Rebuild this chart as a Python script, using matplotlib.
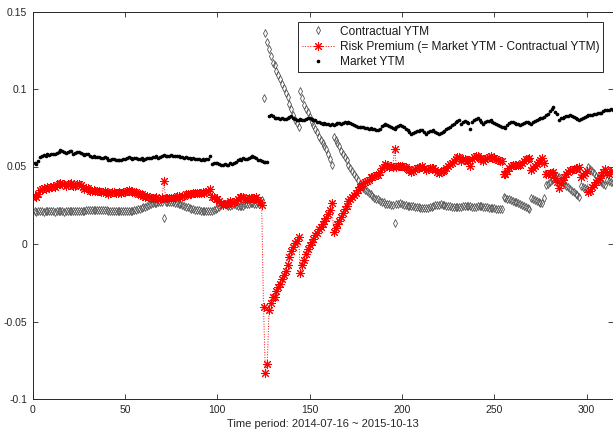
import numpy as np
import matplotlib
matplotlib.use("Agg")
import matplotlib.pyplot as plt

plt.rcParams['font.family'] = ['Liberation Sans', 'DejaVu Sans']

# Market YTM (daily), index 1..314
market_ytm = [
    0.0520, 0.0515, 0.0535, 0.0560, 0.0565, 0.0572, 0.0568, 0.0578, 0.0574, 0.0580,
    0.0583, 0.0578, 0.0588, 0.0595, 0.0604, 0.0598, 0.0594, 0.0586, 0.0592, 0.0598,
    0.0602, 0.0583, 0.0588, 0.0596, 0.0594, 0.0590, 0.0580, 0.0572, 0.0578, 0.0582,
    0.0565, 0.0562, 0.0566, 0.0560, 0.0563, 0.0561, 0.0558, 0.0556, 0.0560, 0.0552,
    0.0540, 0.0545, 0.0548, 0.0550, 0.0544, 0.0540, 0.0545, 0.0540, 0.0548, 0.0550,
    0.0556, 0.0561, 0.0555, 0.0550, 0.0552, 0.0556, 0.0550, 0.0548, 0.0552, 0.0544,
    0.0546, 0.0552, 0.0556, 0.0558, 0.0561, 0.0561, 0.0565, 0.0558, 0.0562, 0.0568,
    0.0572, 0.0568, 0.0565, 0.0570, 0.0572, 0.0568, 0.0565, 0.0570, 0.0565, 0.0561,
    0.0561, 0.0556, 0.0560, 0.0558, 0.0552, 0.0550, 0.0554, 0.0550, 0.0548, 0.0550,
    0.0544, 0.0548, 0.0544, 0.0546, 0.0550, 0.0565, 0.0518, 0.0525, 0.0520, 0.0522,
    0.0518, 0.0512, 0.0507, 0.0515, 0.0507, 0.0512, 0.0520, 0.0518, 0.0525, 0.0530,
    0.0540, 0.0550, 0.0545, 0.0552, 0.0548, 0.0550, 0.0556, 0.0561, 0.0565, 0.0560,
    0.0556, 0.0545, 0.0540, 0.0535, 0.0532, 0.0529, 0.0530,
    0.0827, 0.0831, 0.0825, 0.0816, 0.0812, 0.0810, 0.0808, 0.0810, 0.0806, 0.0804,
    0.0815, 0.0820, 0.0825,
    0.0812, 0.0804, 0.0800, 0.0799, 0.0804, 0.0802, 0.0799, 0.0808, 0.0816, 0.0812,
    0.0804, 0.0800, 0.0799, 0.0788, 0.0790, 0.0782, 0.0777, 0.0780, 0.0775, 0.0772,
    0.0770, 0.0775, 0.0766, 0.0772, 0.0778, 0.0781, 0.0776, 0.0780, 0.0785, 0.0782,
    0.0788, 0.0780, 0.0772, 0.0766, 0.0760, 0.0758, 0.0755, 0.0752, 0.0755, 0.0750,
    0.0748, 0.0745, 0.0750, 0.0742, 0.0740, 0.0738, 0.0734, 0.0745, 0.0760, 0.0770,
    0.0777, 0.0770, 0.0760, 0.0755, 0.0750, 0.0745, 0.0755, 0.0760, 0.0766, 0.0760,
    0.0752, 0.0745, 0.0735, 0.0725, 0.0712, 0.0715, 0.0725, 0.0730, 0.0728, 0.0734,
    0.0734, 0.0725, 0.0712, 0.0720, 0.0728, 0.0730, 0.0734, 0.0725, 0.0718, 0.0712,
    0.0718, 0.0723, 0.0730, 0.0740, 0.0748, 0.0755, 0.0765, 0.0772, 0.0785, 0.0795,
    0.0799, 0.0777, 0.0788, 0.0795, 0.0790, 0.0780, 0.0745, 0.0788, 0.0800, 0.0805,
    0.0810, 0.0800, 0.0790, 0.0777, 0.0785, 0.0792, 0.0796, 0.0799, 0.0790, 0.0782,
    0.0777, 0.0770, 0.0762, 0.0758, 0.0755, 0.0748, 0.0765, 0.0780, 0.0788, 0.0785,
    0.0780, 0.0777, 0.0772, 0.0766, 0.0775, 0.0782, 0.0788, 0.0784, 0.0780, 0.0777,
    0.0785, 0.0792, 0.0799, 0.0805, 0.0810, 0.0815, 0.0822, 0.0831, 0.0840, 0.0855,
    0.0870, 0.0885, 0.0853, 0.0840, 0.0799, 0.0810, 0.0815, 0.0820, 0.0825, 0.0828,
    0.0831, 0.0825, 0.0818, 0.0810, 0.0806, 0.0803, 0.0808, 0.0815, 0.0820, 0.0825,
    0.0831, 0.0830, 0.0835, 0.0838, 0.0840, 0.0842, 0.0842, 0.0848, 0.0855, 0.0864,
    0.0866, 0.0862, 0.0868, 0.0866,
]

# Contractual YTM (daily), index 1..314
contractual_ytm = [
    0.0210, 0.0209, 0.0210, 0.0211, 0.0210, 0.0209, 0.0210, 0.0210, 0.0211, 0.0210,
    0.0210, 0.0209, 0.0210, 0.0210, 0.0211, 0.0210, 0.0209, 0.0210, 0.0210, 0.0211,
    0.0210, 0.0210, 0.0211, 0.0210, 0.0210, 0.0211, 0.0212, 0.0214, 0.0218, 0.0220,
    0.0221, 0.0220, 0.0219, 0.0220, 0.0221, 0.0222, 0.0220, 0.0218, 0.0220, 0.0219,
    0.0216, 0.0215, 0.0214, 0.0213, 0.0212, 0.0212, 0.0211, 0.0211, 0.0212, 0.0213,
    0.0213, 0.0212, 0.0214, 0.0216, 0.0219, 0.0222, 0.0225, 0.0228, 0.0232, 0.0236,
    0.0240, 0.0243, 0.0250, 0.0258, 0.0262, 0.0265, 0.0262, 0.0268, 0.0270, 0.0272,
    0.0168, 0.0270, 0.0268, 0.0270, 0.0272, 0.0268, 0.0265, 0.0262, 0.0258, 0.0255,
    0.0250, 0.0245, 0.0240, 0.0236, 0.0232, 0.0228, 0.0225, 0.0222, 0.0220, 0.0218,
    0.0216, 0.0214, 0.0212, 0.0210, 0.0210, 0.0212, 0.0214, 0.0220, 0.0228, 0.0232,
    0.0240, 0.0250, 0.0255, 0.0258, 0.0252, 0.0248, 0.0245, 0.0250, 0.0255, 0.0252,
    0.0248, 0.0245, 0.0242, 0.0248, 0.0255, 0.0260, 0.0258, 0.0262, 0.0265, 0.0260,
    0.0255, 0.0262, 0.0270, 0.0282,
    0.0940,
    0.1360, 0.1306, 0.1256, 0.1210, 0.1170, 0.1155, 0.1115, 0.1090, 0.1065, 0.1035,
    0.1005, 0.0975, 0.0950, 0.0905, 0.0870, 0.0830, 0.0800, 0.0780, 0.0755,
    0.0990, 0.0940, 0.0900, 0.0870, 0.0850, 0.0820, 0.0790, 0.0770, 0.0740, 0.0720,
    0.0690, 0.0670, 0.0650, 0.0630, 0.0610, 0.0580, 0.0550, 0.0510,
    0.0690, 0.0670, 0.0650, 0.0630, 0.0600, 0.0580, 0.0560, 0.0540, 0.0510, 0.0490,
    0.0470, 0.0450, 0.0430, 0.0410, 0.0390, 0.0380, 0.0360, 0.0350, 0.0340, 0.0330,
    0.0320, 0.0310, 0.0300, 0.0290, 0.0290, 0.0280, 0.0270, 0.0270, 0.0260, 0.0260,
    0.0260, 0.0250, 0.0250,
    0.0133,
    0.0260, 0.0258, 0.0262, 0.0255, 0.0252, 0.0250, 0.0248, 0.0246, 0.0245, 0.0243,
    0.0240, 0.0238, 0.0236, 0.0235,
    0.0233, 0.0232, 0.0232, 0.0234, 0.0236, 0.0240, 0.0245, 0.0250, 0.0252, 0.0253,
    0.0255, 0.0253, 0.0250, 0.0248, 0.0245, 0.0242, 0.0240, 0.0238, 0.0236, 0.0236,
    0.0238, 0.0240, 0.0242, 0.0244, 0.0245, 0.0244, 0.0242, 0.0240, 0.0238, 0.0240,
    0.0242, 0.0244, 0.0243, 0.0240, 0.0238, 0.0236, 0.0235, 0.0233, 0.0232, 0.0230,
    0.0228, 0.0227, 0.0225, 0.0223,
    0.0302, 0.0298, 0.0293, 0.0288, 0.0283, 0.0278, 0.0273, 0.0268, 0.0263, 0.0258,
    0.0252, 0.0246, 0.0240, 0.0234, 0.0228,
    0.0298, 0.0292, 0.0286, 0.0280, 0.0273, 0.0266, 0.0262, 0.0300,
    0.0378, 0.0390, 0.0400, 0.0410, 0.0420, 0.0430, 0.0440, 0.0435, 0.0415, 0.0400,
    0.0390, 0.0375, 0.0365, 0.0355, 0.0345, 0.0335, 0.0325, 0.0315, 0.0305,
    0.0375, 0.0370, 0.0362, 0.0355,
    0.0496, 0.0485, 0.0470, 0.0455, 0.0440, 0.0428, 0.0415, 0.0402, 0.0390, 0.0378,
    0.0410, 0.0408, 0.0400, 0.0395,
]

x_ticks = [0, 50, 100, 150, 200, 250, 300]
y_ticks = [-0.1, -0.05, 0, 0.05, 0.1, 0.15]
y_tick_labels = ['-0.1', '-0.05', '0', '0.05', '0.1', '0.15']
legend_labels = ['Contractual YTM',
                 'Risk Premium (= Market YTM - Contractual YTM)',
                 'Market YTM']
x_label = 'Time period: 2014-07-16 ~ 2015-10-13'

M = np.array(market_ytm)
C = np.array(contractual_ytm)
R = M - C  # risk premium as defined in the legend
t = np.arange(1, len(M) + 1)

W, H = 613, 432
fig = plt.figure(figsize=(W / 100, H / 100), dpi=100)
ax = fig.add_axes([32.7 / W, 1 - 399 / H, (612.5 - 32.7) / W, (399 - 11.5) / H])

ax.plot(t, C, linestyle='none', marker='d', markersize=3.8, mfc='none',
        mec='0.33', mew=0.6, label=legend_labels[0])
ax.plot(t, R, linestyle=':', color='red', linewidth=0.7, marker=(8, 2, 0),
        markersize=6.5, mew=0.75, mec='red', label=legend_labels[1])
ax.plot(t, M, linestyle='none', marker='.', markersize=3.2, color='black',
        label=legend_labels[2])

ax.set_xlim(0, 314)
ax.set_ylim(-0.1, 0.15)
ax.set_xticks(x_ticks)
ax.set_yticks(y_ticks)
ax.set_yticklabels(y_tick_labels)
ax.tick_params(direction='in', length=3.6, width=0.6, top=True, right=True,
               labelsize=7.5, colors='0.15', pad=4)
for s in ax.spines.values():
    s.set_color('0.15')
    s.set_linewidth(0.7)
ax.set_xlabel(x_label, fontsize=8, color='0.15', labelpad=3)

leg = ax.legend(loc='upper left', bbox_to_anchor=(298 / W, 1 - 22 / H),
                bbox_transform=fig.transFigure, borderaxespad=0,
                fontsize=8.6, numpoints=1, handlelength=2.7, handletextpad=0.5,
                labelspacing=0.28, borderpad=0.3, fancybox=False,
                edgecolor='0.15', framealpha=1)
leg.get_frame().set_linewidth(0.7)
for txt in leg.get_texts():
    txt.set_color('0.1')

fig.savefig('out.png', dpi=100)
